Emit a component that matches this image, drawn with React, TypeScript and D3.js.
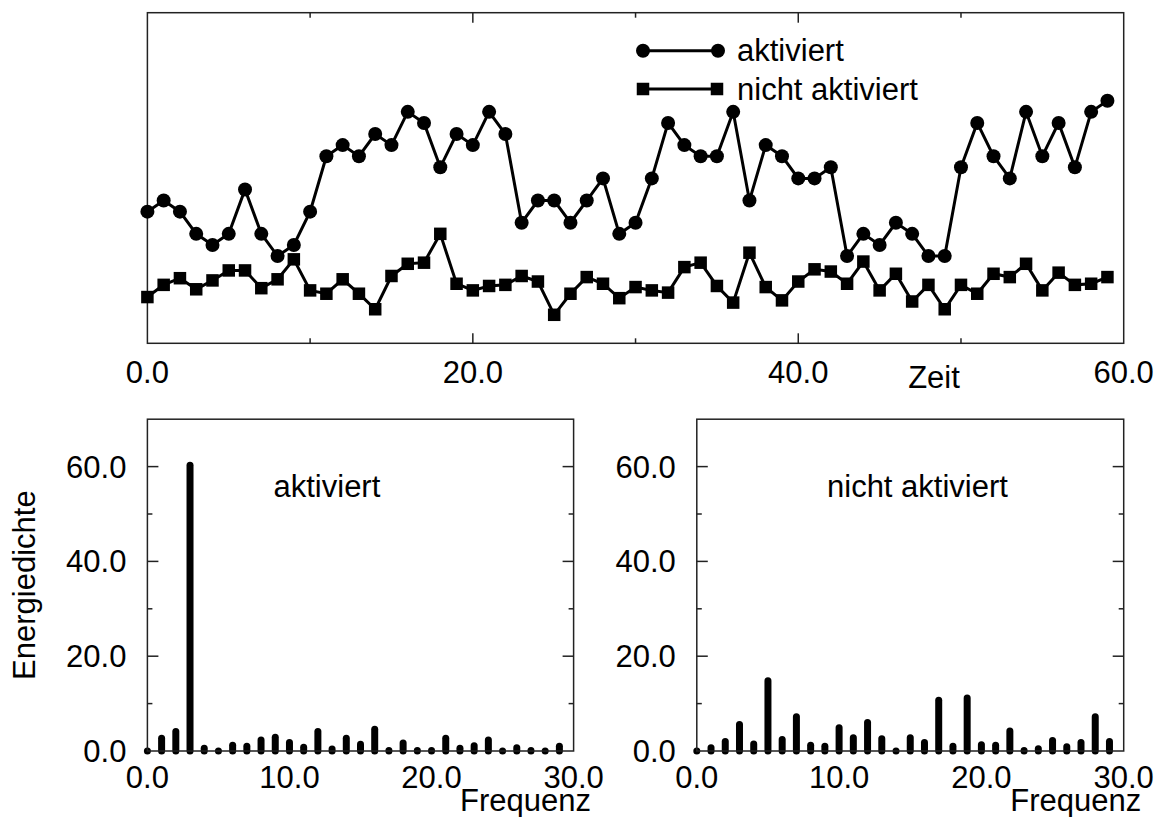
import React from 'react';
import * as d3 from 'd3';

// ---------- data ----------
const aktiviertSeries = [4,5,4,2,1,2,6,2,0,1,4,9,10,9,11,10,13,12,8,11,10,13,11,3,5,5,3,5,7,2,3,7,12,10,9,9,13,5,10,9,7,7,8,0,2,1,3,2,0,0,8,12,9,7,13,9,12,8,13,14];
const nichtAktiviertSeries = [
  -3.7,-2.6,-2.0,-3.0,-2.2,-1.3,-1.3,-2.9,-2.1,-0.3,
  -3.1,-3.4,-2.1,-3.4,-4.8,-1.8,-0.7,-0.6,2.0,-2.5,
  -3.1,-2.7,-2.6,-1.8,-2.3,-5.3,-3.4,-1.9,-2.5,-3.8,
  -2.8,-3.1,-3.3,-1.0,-0.6,-2.7,-4.2,0.3,-2.8,-4.0,
  -2.3,-1.2,-1.4,-2.5,-0.5,-3.1,-1.6,-4.1,-2.6,-4.8,
  -2.6,-3.4,-1.6,-1.9,-0.7,-3.1,-1.5,-2.6,-2.5,-1.9];
const spektrumAktiviert = [0,2.7,4.1,60.3,0.6,0,1.2,1.0,2.3,2.9,1.8,0.8,4.1,0.4,2.7,1.4,4.6,0.1,1.7,0.1,0.1,2.7,0.6,1.1,2.3,0,0.7,0.1,0,1.0];
const spektrumNicht = [0,0.7,2.0,5.6,1.5,14.8,2.4,7.2,1.2,1.0,4.9,2.8,6.0,2.6,0,2.8,1.8,10.7,1.0,11.2,1.3,1.2,4.2,0.1,0.5,2.2,0.9,1.8,7.2,2.0];
const timeTickLabels = [0, 20, 40, 60];
const timeTicks = [10, 20, 30, 40, 50];
const freqTickLabels = [0, 10, 20, 30];
const energyTickLabels = [0, 20, 40, 60];
const energyTicks = [10, 20, 30, 40, 50, 60];
const legendLabels = ['aktiviert', 'nicht aktiviert'];

const FONT = '"Liberation Sans", Arial, Helvetica, sans-serif';
const FS = 31;
const AX = '#222';

function Spectrum({ values, x0, x1, y0, y1, title, titleX, showYLabel }: any) {
  const x = d3.scaleLinear().domain([0, 30]).range([x0, x1]);
  const y = d3.scaleLinear().domain([0, 70]).range([y1, y0]);
  return (
    <g>
      {values.map((v: number, i: number) => (
        <line key={i} x1={x(i)} x2={x(i)} y1={y(0)} y2={y(v)} stroke="#000" strokeWidth={7} strokeLinecap="round" />
      ))}
      <rect x={x0} y={y0} width={x1 - x0} height={y1 - y0} fill="none" stroke={AX} strokeWidth={1.5} />
      {energyTicks.map((t) => {
        const len = t % 20 === 0 ? 11 : 5;
        return (
          <g key={t}>
            <line x1={x0} x2={x0 + len} y1={y(t)} y2={y(t)} stroke={AX} strokeWidth={1.5} />
            <line x1={x1} x2={x1 - len} y1={y(t)} y2={y(t)} stroke={AX} strokeWidth={1.5} />
          </g>
        );
      })}
      {energyTickLabels.map((t) => (
        <text key={t} x={x0 - 21} y={y(t) + 11} textAnchor="end" fontSize={FS} fontFamily={FONT}>{t.toFixed(1)}</text>
      ))}
      {freqTickLabels.map((t) => (
        <text key={t} x={x(t)} y={788} textAnchor="middle" fontSize={FS} fontFamily={FONT}>{t.toFixed(1)}</text>
      ))}
      <text x={x1 - 48} y={811} textAnchor="middle" fontSize={FS} fontFamily={FONT}>Frequenz</text>
      <text x={titleX} y={497} fontSize={FS} fontFamily={FONT}>{title}</text>
      {showYLabel && (
        <text transform={`translate(35,${(y0 + y1) / 2}) rotate(-90)`} textAnchor="middle" fontSize={FS} fontFamily={FONT}>Energiedichte</text>
      )}
    </g>
  );
}

export default function App() {
  const L = 147.4, R = 1123.7, T = 12.7, B = 343.3;
  const x = d3.scaleLinear().domain([0, 60]).range([L, R]);
  const y = d3.scaleLinear().domain([-7.87, 21.94]).range([B, T]);
  const line = d3.line<number>().x((_, i) => x(i)).y((d) => y(d));
  const sq = 12.5;

  return (
    <svg width={1161} height={817} style={{ position: 'absolute', left: 0, top: 0, background: '#fff' }}>
      {/* top chart */}
      <rect x={L} y={T} width={R - L} height={B - T} fill="none" stroke={AX} strokeWidth={1.5} />
      {timeTicks.map((t) => {
        const len = t % 20 === 0 ? 10 : 5;
        return (
          <g key={t}>
            <line x1={x(t)} x2={x(t)} y1={B} y2={B - len} stroke={AX} strokeWidth={1.5} />
            <line x1={x(t)} x2={x(t)} y1={T} y2={T + len} stroke={AX} strokeWidth={1.5} />
          </g>
        );
      })}
      {timeTickLabels.map((t) => (
        <text key={t} x={x(t)} y={383} textAnchor="middle" fontSize={FS} fontFamily={FONT}>{t.toFixed(1)}</text>
      ))}
      <text x={934} y={388} textAnchor="middle" fontSize={FS} fontFamily={FONT}>Zeit</text>

      <path d={line(aktiviertSeries) || ''} fill="none" stroke="#000" strokeWidth={3} />
      <path d={line(nichtAktiviertSeries) || ''} fill="none" stroke="#000" strokeWidth={3} />
      {aktiviertSeries.map((v, i) => (
        <circle key={'c' + i} cx={x(i)} cy={y(v)} r={7} fill="#000" />
      ))}
      {nichtAktiviertSeries.map((v, i) => (
        <rect key={'s' + i} x={x(i) - sq / 2} y={y(v) - sq / 2} width={sq} height={sq} fill="#000" />
      ))}

      {/* legend */}
      <line x1={643} x2={718} y1={50.7} y2={50.7} stroke="#000" strokeWidth={3} />
      <circle cx={643} cy={50.7} r={7} fill="#000" />
      <circle cx={718} cy={50.7} r={7} fill="#000" />
      <text x={737} y={61} fontSize={FS} fontFamily={FONT}>{legendLabels[0]}</text>
      <line x1={643} x2={717} y1={89} y2={89} stroke="#000" strokeWidth={3} />
      <rect x={643 - sq / 2} y={89 - sq / 2} width={sq} height={sq} fill="#000" />
      <rect x={717 - sq / 2} y={89 - sq / 2} width={sq} height={sq} fill="#000" />
      <text x={737} y={100} fontSize={FS} fontFamily={FONT}>{legendLabels[1]}</text>

      {/* bottom charts */}
      <Spectrum values={spektrumAktiviert} x0={147.4} x1={573.6} y0={419.2} y1={751} title="aktiviert" titleX={273.5} showYLabel />
      <Spectrum values={spektrumNicht} x0={696.8} x1={1123.7} y0={419.2} y1={751} title="nicht aktiviert" titleX={827} showYLabel={false} />
    </svg>
  );
}
